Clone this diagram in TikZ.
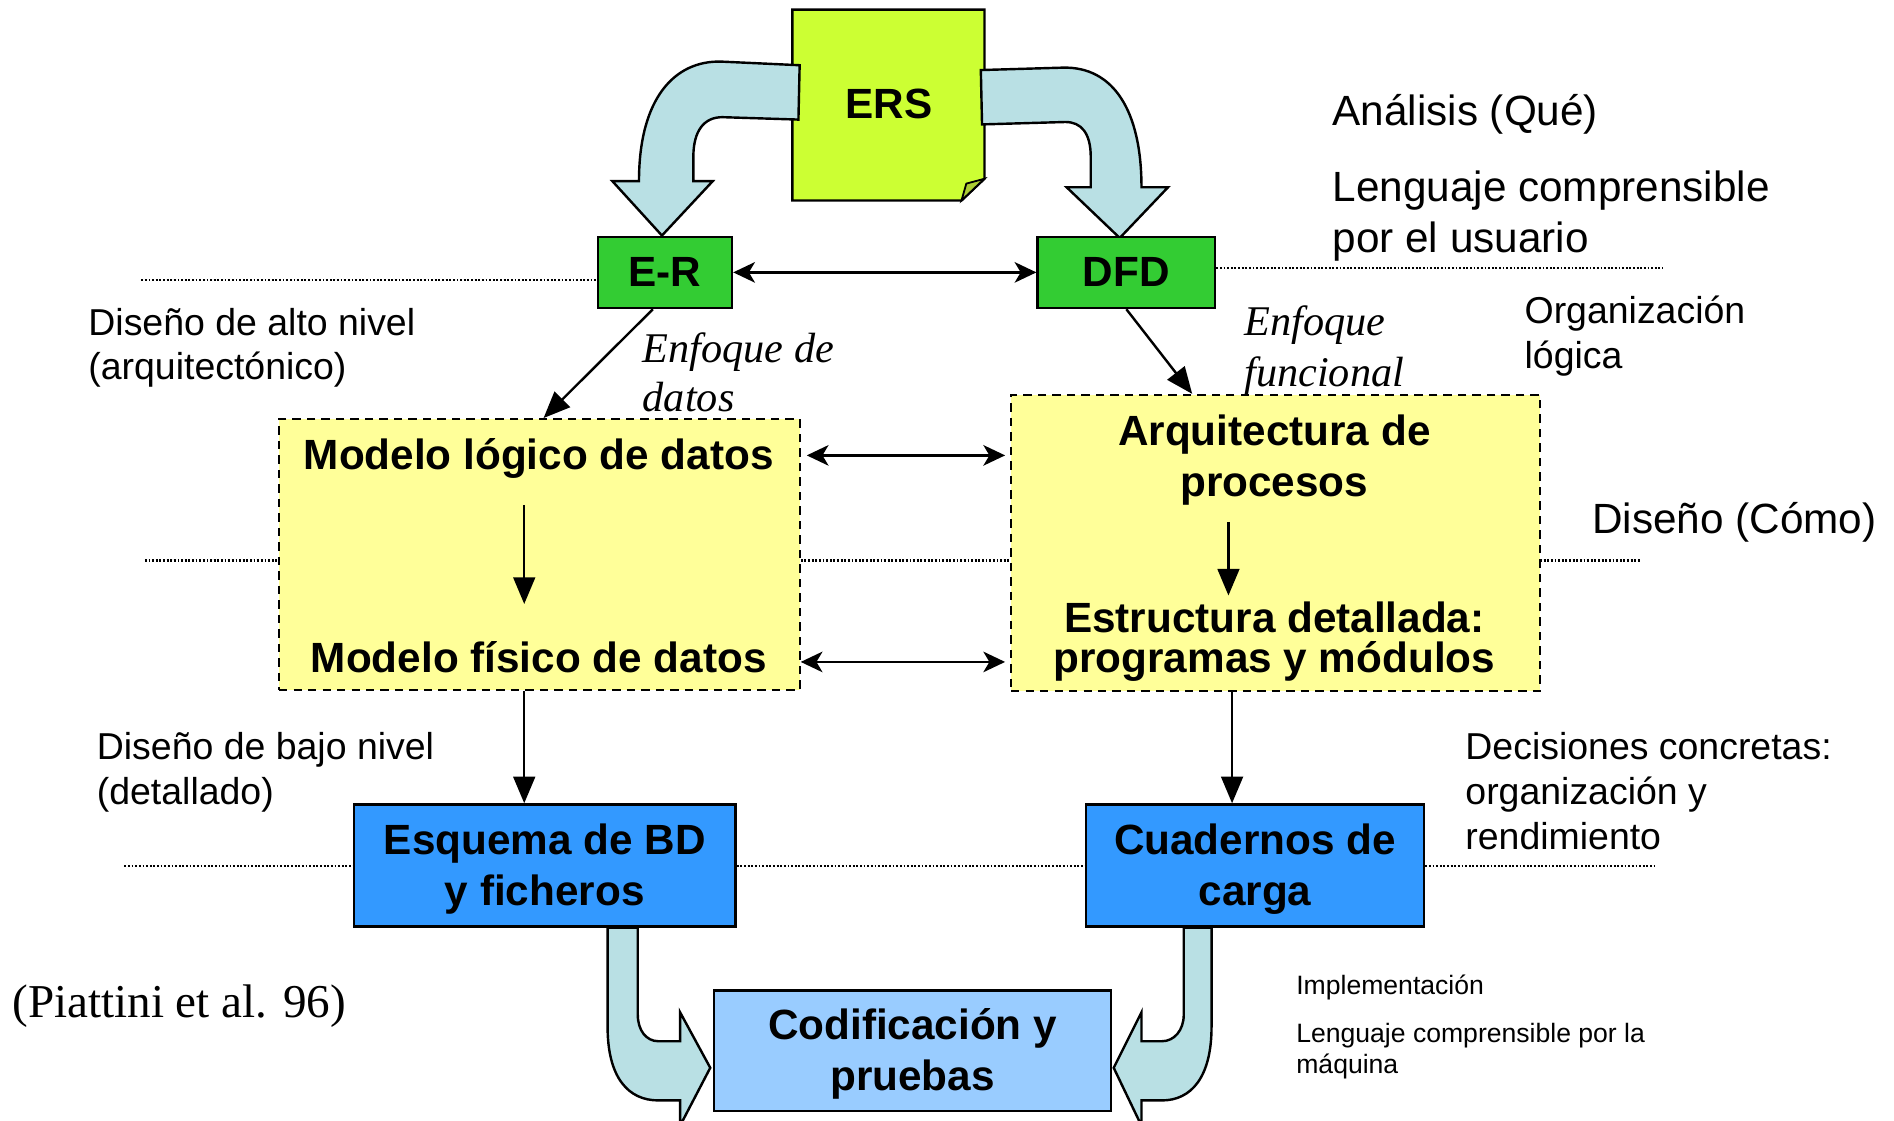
\documentclass[tikz,border=0pt]{standalone}
\usepackage{fontspec}
\setmainfont{Liberation Sans}
\newfontfamily\serifff{Liberation Serif}
\usetikzlibrary{arrows.meta,calc}
\definecolor{ersc}{RGB}{204,255,51}
\definecolor{foldc}{RGB}{172,206,52}
\definecolor{grn}{RGB}{51,204,51}
\definecolor{yel}{RGB}{255,255,153}
\definecolor{blu}{RGB}{51,153,255}
\definecolor{lblu}{RGB}{153,204,255}
\definecolor{arrc}{RGB}{185,224,228}
\begin{document}
\begin{tikzpicture}[x=1pt,y=-1pt,
 boxtxt/.style={font=\bfseries\fontsize{35}{42}\selectfont, align=center, inner sep=0pt},
 gbox/.style={draw, line width=2pt, fill=grn, boxtxt},
 bbox/.style={draw, line width=2pt, fill=blu, boxtxt},
 cbox/.style={draw, line width=2pt, fill=lblu, boxtxt},
 ybox/.style={draw, line width=1.8pt, fill=yel, dash pattern=on 7pt off 5pt, inner sep=0pt},
 ytxt/.style={font=\bfseries\fontsize{35}{42}\selectfont, anchor=base, inner sep=0pt},
 lblA/.style={anchor=base west, inner sep=0pt, font=\fontsize{35}{42}\selectfont},
 lblB/.style={anchor=base west, inner sep=0pt, font=\fontsize{31}{37}\selectfont},
 lblC/.style={anchor=base west, inner sep=0pt, font=\fontsize{22}{26}\selectfont},
 lblI/.style={anchor=base west, inner sep=0pt, font=\serifff\itshape\fontsize{35}{42}\selectfont},
 dots/.style={line width=1.8pt, dash pattern=on 1.5pt off 1.5pt},
 conn/.style={line width=2pt, -{Triangle[length=22pt,width=18pt]}},
 dconn/.style={line width=2pt, {Stealth[length=18pt,width=17pt,inset=5pt]}-{Stealth[length=18pt,width=17pt,inset=5pt]}},
 bigarrow/.style={draw, line width=2pt, fill=arrc, line join=miter},
]
\useasboundingbox (0,0) rectangle (1568,928);

% dotted level lines
\draw[dots] (117,232) -- (494,232);
\draw[dots] (1007,222) -- (1377,222);
\draw[dots] (120,464) -- (1358,464);
\draw[dots] (103,717) -- (1372,717);

% ERS document
\draw[line width=2pt, fill=ersc, line join=miter] (656,8) -- (815,8) -- (815,148) -- (796,166) -- (656,166) -- cycle;
\draw[line width=1.5pt, fill=foldc, line join=miter] (796,166) -- (800,152) -- (815,148) -- cycle;
\node[boxtxt, minimum width=159pt, minimum height=158pt] (ers) at (736,86) {ERS};

% curved arrows from ERS
\path[bigarrow] (662,54) -- (597,51) .. controls (558,50) and (529,82) .. (529,150)
  -- (507,150) -- (548,195) -- (590,150) -- (574,150) -- (574,130)
  .. controls (574,108) and (583,97) .. (598,97) -- (661,99) -- cycle;
\path[bigarrow] (812,58) -- (880,56) .. controls (922,55) and (945,92) .. (945,155)
  -- (967,155) -- (927,197) -- (883,155) -- (903,155) -- (903,130)
  .. controls (903,110) and (895,101) .. (882,101) -- (813,103) -- cycle;

% green boxes
\node[gbox, minimum width=111pt, minimum height=59pt] (er) at (550.5,225.5) {E-R};
\node[gbox, minimum width=147pt, minimum height=59pt] (dfd) at (932.5,225.5) {DFD};

% yellow dashed boxes
\node[ybox, minimum width=431pt, minimum height=224pt] (lbox) at (446.5,459) {};
\node[ybox, minimum width=438pt, minimum height=245pt] (rbox) at (1056,449.5) {};

\node[ytxt] (mlog) at (446,389) {Modelo lógico de datos};
\node[ytxt] (mfis) at (446,557) {Modelo físico de datos};
\node[ytxt] (arq) at (1055,369) {Arquitectura de};
\node[ytxt] (proc) at (1055,411) {procesos};
\node[font=\bfseries\fontsize{35}{33}\selectfont, align=center, inner sep=0pt] (est) at (1055,531) {Estructura detallada:\\programas y módulos};

\coordinate (la1) at (434,418);
\coordinate (la2) at (434,500);
\coordinate (ra1) at (1017,432);
\coordinate (ra2) at (1017,493);
\draw[conn] (la1) -- (la2);
\draw[conn] (ra1) -- (ra2);

% blue boxes
\node[bbox, minimum width=316pt, minimum height=101pt] (esq) at (451,716.5) {\rule{0pt}{31pt}Esquema de BD\\y ficheros};
\node[bbox, minimum width=280pt, minimum height=101pt] (cuad) at (1039,716.5) {\rule{0pt}{31pt}Cuadernos de\\carga};
\node[cbox, minimum width=329pt, minimum height=100pt] (cod) at (755.5,870) {\rule{0pt}{31pt}Codificación y\\pruebas};

% connectors
\coordinate (r1) at (0,377);
\coordinate (r2) at (0,548);
\draw[dconn] (er.east) -- (dfd.west);
\draw[dconn, shorten <=5pt, shorten >=4pt] (lbox.east |- r1) -- (rbox.west |- r1);
\draw[dconn, shorten >=4pt] (lbox.east |- r2) -- (rbox.west |- r2);
\draw[conn] ([xshift=-10pt]er.south) -- ([xshift=3.5pt]lbox.north);
\draw[conn] (dfd.south) -- ([xshift=-69pt]rbox.north);
\draw[conn] ([xshift=-12.5pt]lbox.south) -- ([xshift=-17pt]esq.north);
\draw[conn] ([xshift=-36pt]rbox.south) -- ([xshift=-19pt]cuad.north);

% bottom curved arrows
\path[bigarrow] (503,768) -- (503,850) .. controls (503,892) and (520,911) .. (545,911)
  -- (563,911) -- (563,932) -- (588,884) -- (563,838) -- (563,862) -- (545,862)
  .. controls (535,862) and (528,853) .. (528,840) -- (528,768) -- cycle;
\path[bigarrow] (1003,768) -- (1003,850) .. controls (1003,892) and (986,911) .. (962,911)
  -- (945,911) -- (945,932) -- (922,884) -- (945,838) -- (945,862) -- (962,862)
  .. controls (972,862) and (980,853) .. (980,840) -- (980,768) -- cycle;

% labels
\node[lblA] (t1) at (1103,104) {Análisis (Qué)};
\node[lblA] (t2) at (1103,167) {Lenguaje comprensible};
\node[lblA] (t3) at (1103,209) {por el usuario};
\node[lblA] (t4) at (1318,442) {Diseño (Cómo)};
\node[lblB] (t5) at (73,278) {Diseño de alto nivel};
\node[lblB] (t6) at (73,314) {(arquitectónico)};
\node[lblB] (t7) at (1262,268) {Organización};
\node[lblB] (t8) at (1262,305) {lógica};
\node[lblB] (t9) at (80,629) {Diseño de bajo nivel};
\node[lblB] (t10) at (80,666) {(detallado)};
\node[lblB] (t11) at (1213,629) {Decisiones concretas:};
\node[lblB] (t12) at (1213,666) {organización y};
\node[lblB] (t13) at (1213,703) {rendimiento};
\node[lblC] (t14) at (1073,823) {Implementación};
\node[lblC] (t15) at (1073,863) {Lenguaje comprensible por la};
\node[lblC] (t16) at (1073,889) {máquina};
\node[lblI] (t17) at (532,300) {Enfoque de};
\node[lblI] (t18) at (532,341) {datos};
\node[lblI] (t19) at (1030,278) {Enfoque};
\node[lblI] (t20) at (1030,320) {funcional};
\node[anchor=base west, inner sep=0pt, font=\serifff\fontsize{39}{46}\selectfont] (t21) at (10,842) {(Piattini et al. 96)};
\end{tikzpicture}
\end{document}
